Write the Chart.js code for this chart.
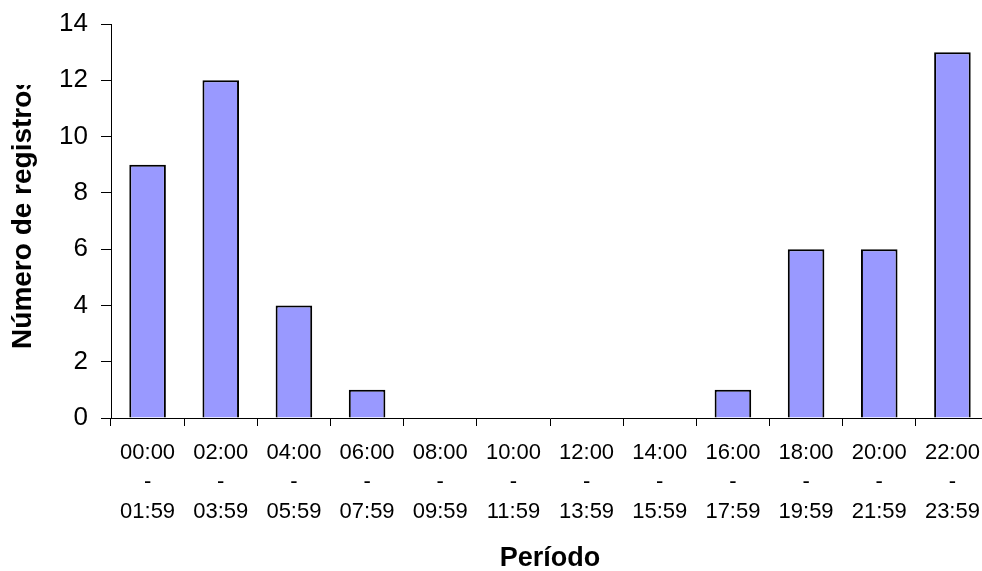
<!DOCTYPE html>
<html>
<head>
<meta charset="utf-8">
<script src="https://cdn.jsdelivr.net/npm/chart.js@4/dist/chart.umd.min.js"></script>
<style>
  html, body { margin: 0; padding: 0; background: #fff; overflow: hidden; }
  #wrap { width: 1000px; height: 571px; }
</style>
</head>
<body>
<div id="wrap"><canvas id="periodChart" width="1000" height="571"></canvas></div>
<script>
// periodos de dos horas
const periodos = [
    ['00:00', '-', '01:59'], ['02:00', '-', '03:59'], ['04:00', '-', '05:59'],
    ['06:00', '-', '07:59'], ['08:00', '-', '09:59'], ['10:00', '-', '11:59'],
    ['12:00', '-', '13:59'], ['14:00', '-', '15:59'], ['16:00', '-', '17:59'],
    ['18:00', '-', '19:59'], ['20:00', '-', '21:59'], ['22:00', '-', '23:59']
];
const registros = [9, 12, 4, 1, 0, 0, 0, 0, 1, 6, 6, 13];
const yTicks = [0, 2, 4, 6, 8, 10, 12, 14];

const tituloY = 'Número de registros';
const tituloX = 'Período';
const fuente = 'Arial, "Liberation Sans", sans-serif';

// titulo del eje Y, recortado arriba como en el original
const yTitlePlugin = {
    id: 'yTitle',
    afterDraw(chart) {
        const ctx = chart.ctx;
        ctx.save();
        ctx.beginPath();
        ctx.rect(0, 85, 60, chart.height - 85);
        ctx.clip();
        ctx.translate(23, 212);
        ctx.rotate(-Math.PI / 2);
        ctx.font = 'bold 28px ' + fuente;
        ctx.fillStyle = '#000';
        ctx.textAlign = 'center';
        ctx.textBaseline = 'middle';
        ctx.fillText(tituloY, 0, 0);
        ctx.restore();
    }
};

function initChart() {
    const ctx = document.getElementById('periodChart').getContext('2d');

    new Chart(ctx, {
        type: 'bar',
        data: {
            labels: periodos,
            datasets: [{
                label: tituloY,
                data: registros,
                backgroundColor: '#9999FF',
                borderColor: '#000',
                borderWidth: 2,
                borderSkipped: 'bottom',
                barPercentage: 0.5,
                categoryPercentage: 1
            }]
        },
        options: {
            responsive: false,
            animation: false,
            devicePixelRatio: 1,
            layout: { padding: { top: 24, right: 11, left: 0, bottom: 0 } },
            plugins: {
                legend: { display: false },
                tooltip: { enabled: false }
            },
            scales: {
                x: {
                    afterFit: s => { s.height = 153; },
                    grid: {
                        offset: true,
                        drawOnChartArea: false,
                        color: '#000',
                        tickLength: 8
                    },
                    border: { color: '#000', width: 1 },
                    ticks: {
                        color: '#000',
                        padding: 12,
                        maxRotation: 0,
                        autoSkip: false,
                        font: { family: fuente, size: 22, lineHeight: 1.34 }
                    },
                    title: {
                        display: true,
                        text: tituloX,
                        color: '#000',
                        padding: { top: 0, bottom: 0 },
                        font: { family: fuente, size: 27, weight: 'bold', lineHeight: 0.9 }
                    }
                },
                y: {
                    min: 0,
                    max: 14,
                    afterFit: s => {
                        s.width = 111;
                        s.paddingTop = 0;
                        s.paddingBottom = 0;
                    },
                    afterBuildTicks: s => { s.ticks = yTicks.map(v => ({ value: v })); },
                    grid: {
                        drawOnChartArea: false,
                        color: '#000',
                        tickLength: 10
                    },
                    border: { color: '#000', width: 1 },
                    ticks: {
                        color: '#000',
                        padding: 13,
                        font: { family: fuente, size: 26 }
                    }
                }
            }
        },
        plugins: [yTitlePlugin]
    });
}

document.addEventListener('DOMContentLoaded', initChart);
</script>
</body>
</html>
